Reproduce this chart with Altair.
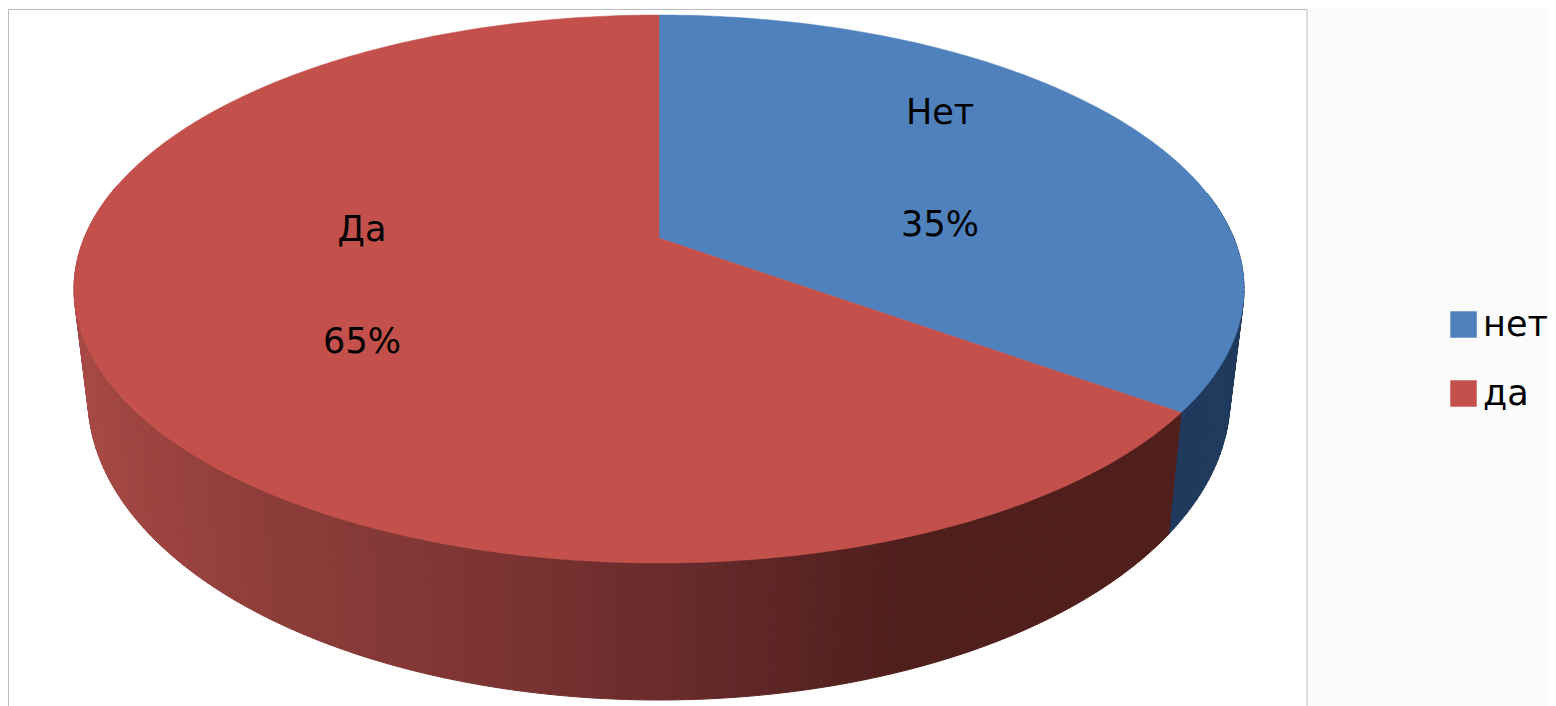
import math
import altair as alt
import pandas as pd

# ---- values
slices = ["нет", "да"]
shares = [35, 65]
slice_colors = ["#4f81bd", "#c4504c"]
label_names = ["Нет", "Да"]
label_values = ["35%", "65%"]
label_x = [940, 362]
label_y = [169, 286]

wall_stop_x = [75, 130, 250, 450, 700, 900, 1240]
wall_stop_color = ["#a84a46", "#a04541", "#8f3e3a", "#7f3634", "#66292a", "#4f1f1c", "#521f1b"]
wall_dark_blue = "#1f3a5c"

# ---- geometry of the tilted pie, in page pixels
TOP = dict(cx=659, cy=289, rx=585, ry=274)
BOTTOM = dict(cx=659, cy=398, rx=571, ry=302)
TILT = 0.186
PAGE_W, PAGE_H = 1548, 706


def rim(angle, radius, e):
    """Clockwise angle from 12 o'clock -> page position, with perspective."""
    u, v = radius * math.sin(angle), radius * math.cos(angle)
    d = 1 + TILT * v
    return e["cx"] + e["rx"] * u * math.sqrt(1 - TILT ** 2) / d, e["cy"] - e["ry"] * (v + TILT) / d


def mix(x):
    rgb = lambda h: [int(h[k:k + 2], 16) for k in (1, 3, 5)]
    for i in range(len(wall_stop_x) - 1):
        if x <= wall_stop_x[i + 1]:
            t = max(0, (x - wall_stop_x[i]) / (wall_stop_x[i + 1] - wall_stop_x[i]))
            a, b = rgb(wall_stop_color[i]), rgb(wall_stop_color[i + 1])
            return "#%02x%02x%02x" % tuple(round(p + (q - p) * t) for p, q in zip(a, b))
    return wall_stop_color[-1]


# top face: one closed outline per slice
total = sum(shares)
face_rows, start = [], 0.0
for name, share in zip(slices, shares):
    end = start + share / total * 2 * math.pi
    steps = max(2, int(share * 4))
    cx, cy = rim(0, 0, TOP)
    face_rows.append(dict(slice=name, i=0, x=cx, y=cy))
    for k in range(steps + 1):
        px, py = rim(start + (end - start) * k / steps, 1, TOP)
        face_rows.append(dict(slice=name, i=k + 1, x=px, y=py))
    face_rows.append(dict(slice=name, i=steps + 2, x=cx, y=cy))
    start = end
faces = pd.DataFrame(face_rows)

# side wall: narrow shaded strips along the front of the rim
blue_end = shares[0] / total * 2 * math.pi
a0, a1 = math.radians(80), math.radians(282)
n = 220
cuts = sorted({a0 + (a1 - a0) * s / n for s in range(n + 1)} | {blue_end})
wall_rows = []
for s in range(len(cuts) - 1):
    t0, t1 = cuts[s], cuts[s + 1]
    pts = [rim(t0, 1, TOP), rim(t1, 1, TOP), rim(t1, 1, BOTTOM), rim(t0, 1, BOTTOM)]
    xm = sum(p[0] for p in pts) / 4
    col = wall_dark_blue if (t0 + t1) / 2 < blue_end else mix(xm)
    for i, (px, py) in enumerate(pts + pts[:1]):
        wall_rows.append(dict(strip=s, i=i, x=px, y=py, col=col))
walls = pd.DataFrame(wall_rows)

X = alt.X("x:Q", scale=alt.Scale(domain=[8, PAGE_W]), axis=None)
Y = alt.Y("y:Q", scale=alt.Scale(domain=[PAGE_H, 8]), axis=None)

frame = alt.Chart(pd.DataFrame({"x": [8.5], "x2": [1307], "y": [9.5], "y2": [720]})).mark_rect(
    fill="white", stroke="#bdbdbd", strokeWidth=1, clip=True
).encode(X, Y, x2="x2:Q", y2="y2:Q")

wall_layer = alt.Chart(walls).mark_line(strokeWidth=1, clip=True).encode(
    X, Y,
    order="i:Q",
    detail="strip:N",
    fill=alt.Fill("col:N", scale=None, legend=None),
    stroke=alt.Stroke("col:N", scale=None, legend=None),
)

face_scale = alt.Scale(domain=slices, range=slice_colors)
face_layer = alt.Chart(faces).mark_line(strokeWidth=0.5).encode(
    X, Y,
    order="i:Q",
    fill=alt.Fill(
        "slice:N",
        scale=face_scale,
        legend=alt.Legend(
            title=None, orient="none", legendX=1438, legendY=299,
            symbolType="square", symbolSize=700, symbolStrokeWidth=0,
            labelFont="DejaVu Sans", labelFontSize=35, labelColor="black",
            labelOffset=2, rowPadding=33, labelLimit=200,
        ),
    ),
    stroke=alt.Stroke("slice:N", scale=face_scale, legend=None),
)

labels = pd.DataFrame(dict(x=label_x, y=label_y, name=label_names, value=label_values))
text = alt.Chart(labels).mark_text(font="DejaVu Sans", fontSize=35, color="black", dy=-56).encode(X, Y, text="name:N")
text2 = alt.Chart(labels).mark_text(font="DejaVu Sans", fontSize=35, color="black", dy=56).encode(X, Y, text="value:N")

chart = (
    alt.layer(frame, wall_layer, face_layer, text, text2)
    .resolve_scale(fill="independent", stroke="independent")
    .properties(width=PAGE_W - 8, height=PAGE_H - 8, background="#fbfbfb", padding=0, autosize=alt.AutoSizeParams(type="none"))
    .configure_view(stroke=None)
)

chart.save("out.html", embed_options={"renderer": "svg", "actions": False})
